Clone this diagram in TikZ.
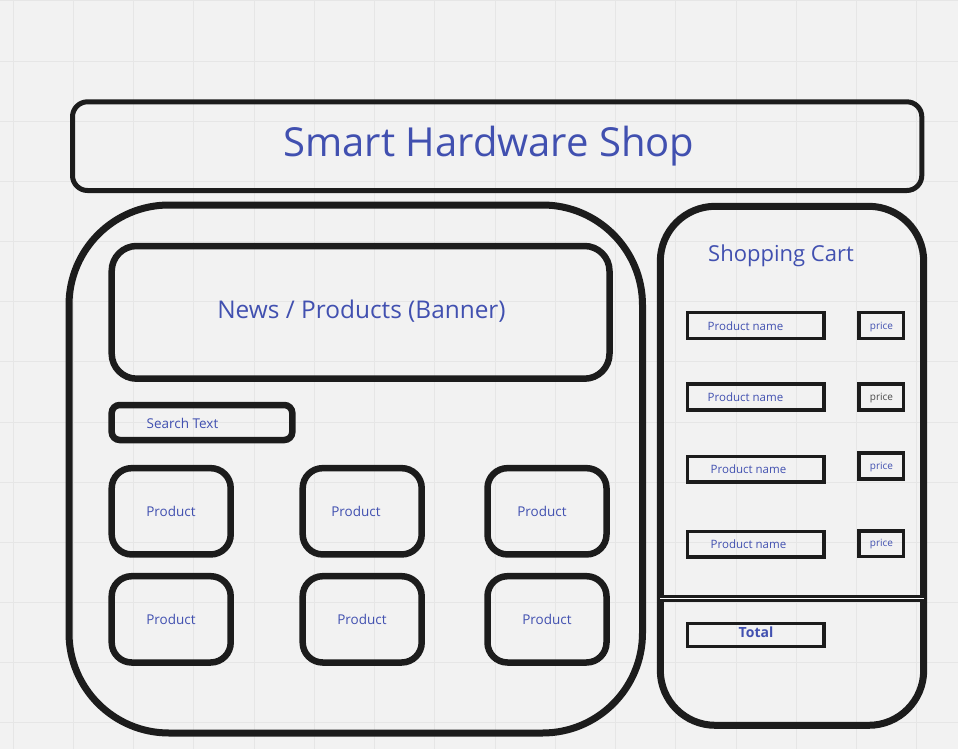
\documentclass[tikz,border=0pt]{standalone}
\usepackage{fontspec}
\setmainfont{Open Sans}
\definecolor{txt}{HTML}{4150B0}
\definecolor{bg}{HTML}{F2F2F2}
\definecolor{gridc}{HTML}{E6E6E6}
\definecolor{ink}{HTML}{1C1C1C}
\definecolor{graytxt}{HTML}{4A4A4A}
\tikzset{
  box/.style={draw=ink, rounded corners=#1, inner sep=0pt, outer sep=0pt},
  lbl/.style={text=txt, inner sep=0pt, anchor=base},
  thinbox/.style={draw=ink, line width=3.5pt, inner sep=0pt, outer sep=0pt},
}
\begin{document}
\begin{tikzpicture}[x=1pt, y=-1pt]
\fill[bg] (0,0) rectangle (958,749);
\useasboundingbox (0,0) rectangle (958,749);
% grid
\foreach \k in {0,...,15} \draw[gridc, line width=1pt] (13+60.25*\k,0) -- (13+60.25*\k,749);
\foreach \k in {0,...,12} \draw[gridc, line width=1pt] (0,1+60.15*\k) -- (958,1+60.15*\k);

% title
\node[box=15pt, line width=5pt, minimum width=849.3pt, minimum height=88.7pt] (title) at (497.15,146.15) {};
\node[lbl, font=\fontsize{40}{40}\selectfont] (titletext) at (489,156.7) {Smart Hardware Shop};

% main panel
\node[box=100pt, line width=7pt, minimum width=573.5pt, minimum height=528pt] (main) at (355.75,469) {};
% cart panel
\node[box=55pt, line width=7pt, minimum width=263.4pt, minimum height=519pt] (cart) at (792,465.8) {};

% banner
\node[box=25pt, line width=6.5pt, minimum width=497.8pt, minimum height=132.7pt] (banner) at (360.6,312.35) {};
\node[lbl, font=\fontsize{24.4}{24.4}\selectfont] (bannertext) at (361.5,318.3) {News / Products (Banner)};

% search
\node[box=8pt, line width=6.5pt, minimum width=180.6pt, minimum height=35pt] (search) at (202,422.5) {};
\node[lbl, font=\fontsize{13.5}{13.5}\selectfont] (searchtext) at (182.5,428.3) {Search Text};

% products
\tikzset{prod/.style={box=20pt, line width=6.5pt, minimum width=119pt, minimum height=86.3pt}}
\node[prod] (p11) at (171.2,511.3) {};
\node[prod] (p12) at (362.2,511.3) {};
\node[prod] (p13) at (547,511.3) {};
\node[prod] (p21) at (171.2,619.35) {};
\node[prod] (p22) at (362.2,619.35) {};
\node[prod] (p23) at (547,619.35) {};
\tikzset{ptext/.style={lbl, font=\fontsize{13.5}{13.5}\selectfont}}
\node[ptext] at (171,516) {Product};
\node[ptext] at (356,516) {Product};
\node[ptext] at (542,516) {Product};
\node[ptext] at (171,624.3) {Product};
\node[ptext] at (362,624.3) {Product};
\node[ptext] at (547,624.3) {Product};

% cart content
\node[lbl, font=\fontsize{22}{22}\selectfont] (carttitle) at (781,261.7) {Shopping Cart};
\tikzset{
  namebox/.style={thinbox, minimum width=136.3pt, minimum height=25.6pt},
  pricebox/.style={thinbox, minimum width=44.3pt, minimum height=25.8pt},
  ntext/.style={lbl, font=\fontsize{11.5}{11.5}\selectfont},
  prtext/.style={lbl, font=\fontsize{10}{10}\selectfont},
}
\node[namebox] (n1) at (755.85,325.5) {};
\node[namebox] (n2) at (755.85,397) {};
\node[namebox] (n3) at (755.85,469.2) {};
\node[namebox] (n4) at (755.85,544.2) {};
\node[pricebox] (c1) at (881.35,325.5) {};
\node[pricebox] (c2) at (881.35,397) {};
\node[pricebox] (c3) at (881.35,465.85) {};
\node[pricebox] (c4) at (881.35,543.7) {};
\node[ntext] at (745.5,330) {Product name};
\node[ntext] at (745.5,401) {Product name};
\node[ntext] at (748.5,473.3) {Product name};
\node[ntext] at (748.5,548.3) {Product name};
\node[prtext] at (881.5,329) {price};
\node[prtext, text=graytxt] at (881.5,400) {price};
\node[prtext] at (881.5,469.3) {price};
\node[prtext] at (881.5,546.7) {price};

% divider
\coordinate (dl) at (660.3,598.3);
\coordinate (dr) at (923.7,598.3);
\draw[ink, line width=2.6pt, double=white, double distance=1.2pt] (dl) -- (dr);

% total
\node[namebox, minimum height=23.4pt] (total) at (755.85,635) {};
\node[lbl, font=\bfseries\fontsize{14}{14}\selectfont] at (756,637.7) {Total};
\end{tikzpicture}
\end{document}
